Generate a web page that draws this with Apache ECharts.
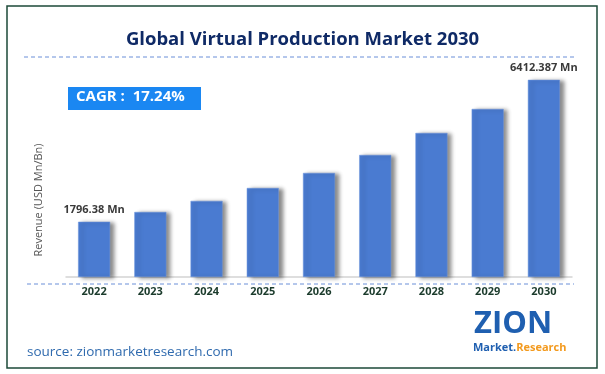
<!DOCTYPE html>
<html>
<head>
<meta charset="utf-8">
<script src="https://cdn.jsdelivr.net/npm/echarts@6/dist/echarts.min.js"></script>
<style>
html,body{margin:0;padding:0;background:#fff;}
#chart{width:605px;height:374px;}
</style>
</head>
<body>
<div id="chart"></div>
<script>
const years = ['2022','2023','2024','2025','2026','2027','2028','2029','2030'];
const revenue = [1796.38, 2115, 2475, 2895, 3385, 3970, 4685, 5465, 6412.387];
const valueLabels = ['1796.38 Mn', '', '', '', '', '', '', '', '6412.387 Mn'];
const titleText = 'Global Virtual Production Market 2030';
const cagrText = 'CAGR :  17.24%';
const yAxisName = 'Revenue (USD Mn/Bn)';
const sourceText = 'source: zionmarketresearch.com';

const chart = echarts.init(document.getElementById('chart'), null, {renderer: 'canvas'});

const barData = revenue.map((v, i) => ({
  value: v,
  label: {
    show: valueLabels[i] !== '',
    formatter: valueLabels[i]
  }
}));

chart.setOption({
  animation: false,
  backgroundColor: '#ffffff',
  title: {
    text: titleText,
    left: 'center',
    top: 25,
    textStyle: {fontFamily: 'Open Sans', fontWeight: 'bold', fontSize: 18.5, color: '#0f2a66'}
  },
  grid: {left: 66, right: 33, top: 31, bottom: 97},
  xAxis: {
    type: 'category',
    data: years,
    axisLine: {show: true, lineStyle: {color: '#d4d4d4', width: 1.5}},
    axisTick: {show: false},
    axisLabel: {
      margin: 9,
      fontFamily: 'Open Sans',
      fontWeight: 'bold',
      fontSize: 11,
      color: '#1b3b2c'
    }
  },
  yAxis: {
    type: 'value',
    min: 0,
    max: 8000,
    show: false
  },
  series: [{
    type: 'bar',
    data: barData,
    barWidth: 32,
    itemStyle: {
      color: '#4a7bd1',
      borderColor: '#6f97de',
      borderWidth: 0.5,
      shadowColor: 'rgba(0,0,0,0.45)',
      shadowBlur: 4,
      shadowOffsetX: 4,
      shadowOffsetY: 1
    },
    label: {
      position: 'top',
      distance: 6,
      fontFamily: 'Open Sans',
      fontWeight: 'bold',
      fontSize: 11,
      color: '#3a3a3a'
    }
  }],
  graphic: [
    {
      type: 'rect',
      shape: {x: 7, y: 6, width: 590, height: 362},
      style: {fill: 'none', stroke: '#1c4a38', lineWidth: 1.5},
      silent: true
    },
    {
      type: 'line',
      shape: {x1: 24, y1: 57, x2: 574, y2: 57},
      style: {stroke: '#6a8fd8', lineWidth: 1, lineDash: [4, 3]}
    },
    {
      type: 'line',
      shape: {x1: 27, y1: 284, x2: 574, y2: 284},
      style: {stroke: '#6a8fd8', lineWidth: 1, lineDash: [4, 3]}
    },
    {
      type: 'rect',
      shape: {x: 68, y: 87, width: 133, height: 23},
      style: {fill: '#1a87f2'}
    },
    {
      type: 'text',
      left: 76,
      top: 89,
      style: {text: cagrText, font: 'bold 15px "Open Sans"', fill: '#ffffff'}
    },
    {
      type: 'text',
      rotation: Math.PI / 2,
      x: 39,
      y: 200,
      style: {text: yAxisName, font: '11px "Open Sans"', fill: '#555555', align: 'center', verticalAlign: 'middle'}
    },
    {
      type: 'text',
      left: 27,
      top: 345,
      style: {text: sourceText, font: '13.5px "Open Sans"', fill: '#2f6aae'}
    },
    {
      type: 'text',
      left: 474,
      top: 309,
      style: {text: 'ZION', font: 'bold 31px "Open Sans"', fill: '#1f5fb0'}
    },
    {
      type: 'text',
      left: 473,
      top: 342,
      style: {
        text: '{a|Market.}{b|Research}',
        rich: {
          a: {font: 'bold 11px "Open Sans"', fill: '#1f5fb0'},
          b: {font: 'bold 11px "Open Sans"', fill: '#f39a1e'}
        }
      }
    }
  ]
});
</script>
</body>
</html>
